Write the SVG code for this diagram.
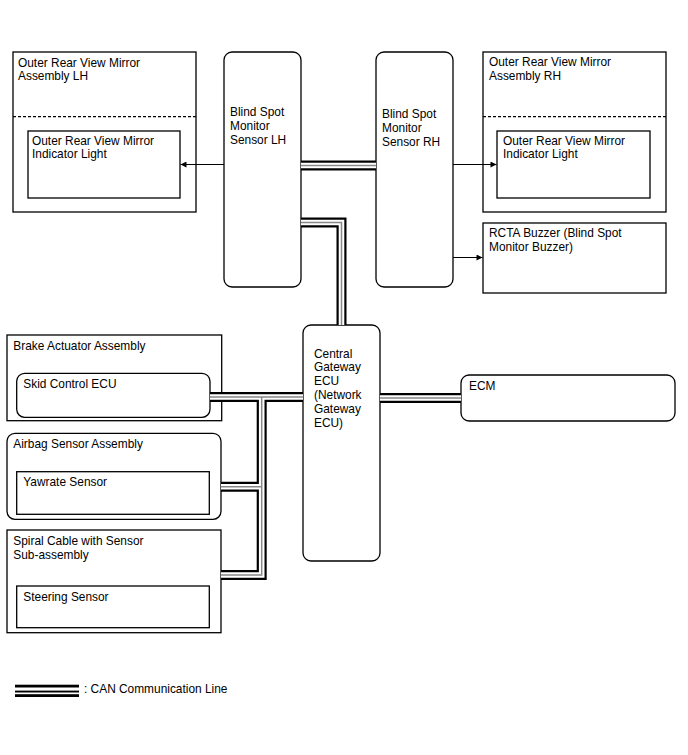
<svg xmlns="http://www.w3.org/2000/svg" width="688" height="755" viewBox="0 0 688 755">
<defs>
<style>
.box{fill:#fff;stroke:#000;stroke-width:1.3}
.dash{fill:none;stroke:#000;stroke-width:1.2;stroke-dasharray:3,2}
.t{font-family:"Liberation Sans",Arial,sans-serif;font-size:11.9px;fill:#000}
.arr{fill:none;stroke:#000;stroke-width:1}
.canB{fill:none;stroke:#000;stroke-width:10}
.canW{fill:none;stroke:#fff;stroke-width:5.6}
.canG{fill:none;stroke:#888;stroke-width:1.5}
</style>
<marker id="ah" viewBox="0 0 10 10" refX="10" refY="5" markerWidth="9" markerHeight="6" markerUnits="userSpaceOnUse" orient="auto">
<path d="M0,0 L10,5 L0,10 z" fill="#000"/>
</marker>
</defs>
<rect width="688" height="755" fill="#fff"/>

<g id="mirror-lh">
<rect class="box" x="13" y="52" width="183" height="160"/>
<line class="dash" x1="13" y1="116.7" x2="196" y2="116.7"/>
<text class="t" x="18" y="66.5">Outer Rear View Mirror</text>
<text class="t" x="18" y="80">Assembly LH</text>
</g>
<g id="indicator-lh">
<rect class="box" x="28" y="131" width="152" height="67"/>
<text class="t" x="32" y="144.5">Outer Rear View Mirror</text>
<text class="t" x="32" y="158">Indicator Light</text>
</g>

<g id="bsm-lh">
<rect class="box" x="224" y="52" width="77" height="235" rx="8"/>
<text class="t" x="230" y="116">Blind Spot</text>
<text class="t" x="230" y="130">Monitor</text>
<text class="t" x="230" y="144">Sensor LH</text>
</g>

<g id="bsm-rh">
<rect class="box" x="376" y="52" width="77" height="235" rx="8"/>
<text class="t" x="382" y="118">Blind Spot</text>
<text class="t" x="382" y="132">Monitor</text>
<text class="t" x="382" y="146">Sensor RH</text>
</g>

<g id="mirror-rh">
<rect class="box" x="483" y="52" width="183" height="160"/>
<line class="dash" x1="483" y1="116.7" x2="666" y2="116.7"/>
<text class="t" x="489" y="66">Outer Rear View Mirror</text>
<text class="t" x="489" y="80">Assembly RH</text>
</g>
<g id="indicator-rh">
<rect class="box" x="497" y="131" width="153" height="67"/>
<text class="t" x="503" y="144.5">Outer Rear View Mirror</text>
<text class="t" x="503" y="158">Indicator Light</text>
</g>

<g id="rcta-buzzer">
<rect class="box" x="483" y="223" width="183" height="70"/>
<text class="t" x="489" y="237">RCTA Buzzer (Blind Spot</text>
<text class="t" x="489" y="250.5">Monitor Buzzer)</text>
</g>

<g id="gateway">
<rect class="box" x="303" y="325" width="77" height="236" rx="8"/>
<text class="t" x="314" y="357.5">Central</text>
<text class="t" x="314" y="371.3">Gateway</text>
<text class="t" x="314" y="385.1">ECU</text>
<text class="t" x="314" y="398.9">(Network</text>
<text class="t" x="314" y="412.7">Gateway</text>
<text class="t" x="314" y="426.5">ECU)</text>
</g>

<g id="ecm">
<rect class="box" x="461" y="375" width="214" height="46" rx="8"/>
<text class="t" x="469" y="389.5">ECM</text>
</g>

<g id="brake-actuator">
<rect class="box" x="7" y="335" width="214.7" height="85.7"/>
<text class="t" x="13.3" y="350">Brake Actuator Assembly</text>
</g>
<g id="skid-ecu">
<rect class="box" x="16.7" y="373.3" width="193.3" height="44" rx="8"/>
<text class="t" x="23.3" y="388.3">Skid Control ECU</text>
</g>

<g id="airbag-sensor">
<rect class="box" x="7" y="433.3" width="214" height="86" rx="8"/>
<text class="t" x="13.3" y="448.3">Airbag Sensor Assembly</text>
</g>
<g id="yawrate-sensor">
<rect class="box" x="16.7" y="471.7" width="192.6" height="42.6"/>
<text class="t" x="23.3" y="486.3">Yawrate Sensor</text>
</g>

<g id="spiral-cable">
<rect class="box" x="7" y="530" width="214" height="102.7"/>
<text class="t" x="13.3" y="545">Spiral Cable with Sensor</text>
<text class="t" x="13.3" y="558.5">Sub-assembly</text>
</g>
<g id="steering-sensor">
<rect class="box" x="16.7" y="586" width="192.6" height="41.7"/>
<text class="t" x="23.3" y="601">Steering Sensor</text>
</g>

<g id="connectors">
<line class="arr" x1="224" y1="164.5" x2="180.5" y2="164.5" marker-end="url(#ah)"/>
<line class="arr" x1="453" y1="164.5" x2="496.5" y2="164.5" marker-end="url(#ah)"/>
<line class="arr" x1="453" y1="257.5" x2="482.5" y2="257.5" marker-end="url(#ah)"/>
<g id="can-bundles">
<path class="canB" d="M301,165.5 H376 M301,222.5 H341.5 V325 M380,398 H461 M210,397 H303 M261.7,397 V575 H221 M221,486.7 H261.7"/>
<path class="canW" d="M301,165.5 H376 M301,222.5 H341.5 V325 M380,398 H461 M210,397 H303 M261.7,397 V575 H221 M221,486.7 H261.7"/>
<path class="canG" d="M301,165.5 H376 M301,222.5 H341.5 V325 M380,398 H461 M210,397 H303 M261.7,397 V575 H221 M221,486.7 H261.7"/>
</g>
</g>

<g id="legend">
<rect x="15" y="684.7" width="64" height="2.8" fill="#000"/>
<rect x="15" y="690.6" width="64" height="1.9" fill="#000"/>
<rect x="15" y="694.2" width="64" height="2.8" fill="#000"/>
<text class="t" x="84" y="693">: CAN Communication Line</text>
</g>
</svg>
